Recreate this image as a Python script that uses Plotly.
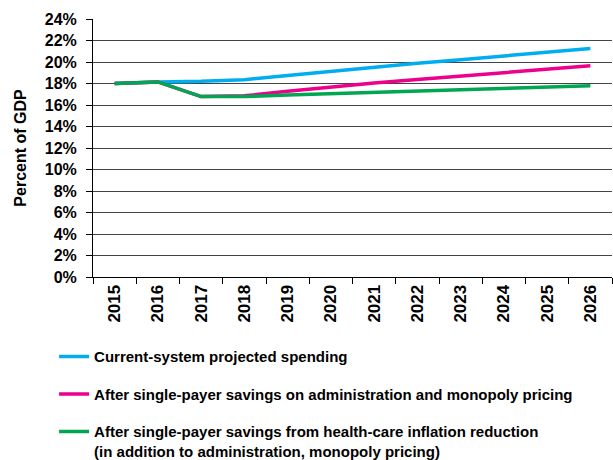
import plotly.graph_objects as go

years = ["2015", "2016", "2017", "2018", "2019", "2020", "2021", "2022", "2023", "2024", "2025", "2026"]
current_system = [18.0, 18.15, 18.2, 18.35, 18.75, 19.15, 19.53, 19.88, 20.22, 20.57, 20.91, 21.26]
admin_monopoly = [18.0, 18.15, 16.78, 16.85, 17.27, 17.69, 18.05, 18.37, 18.69, 19.0, 19.33, 19.65]
inflation_reduction = [18.0, 18.15, 16.78, 16.78, 16.94, 17.06, 17.22, 17.34, 17.45, 17.56, 17.67, 17.78]

names = [
    "Current-system projected spending",
    "After single-payer savings on administration and monopoly pricing",
    "After single-payer savings from health-care inflation reduction<br>(in addition to administration, monopoly pricing)",
]
colors = ["#00AEEF", "#EC008C", "#00A651"]
y_ticks = list(range(0, 25, 2))
y_tick_labels = [f"{v}%" for v in y_ticks]

FONT = "Liberation Sans, Arial, sans-serif"

fig = go.Figure()
for i, (vals, name, col) in enumerate(zip([current_system, admin_monopoly, inflation_reduction], names, colors)):
    fig.add_trace(go.Scatter(
        x=years, y=vals, name=name, mode="lines",
        line=dict(color=col, width=3.5),
        legendgroup=f"g{i}",
    ))

fig.update_layout(
    width=613, height=460,
    margin=dict(l=93, r=1, t=19, b=183, autoexpand=False),
    paper_bgcolor="white", plot_bgcolor="white",
    font=dict(family=FONT, size=16, color="black"),
    showlegend=True,
    legend=dict(
        x=-0.075, xanchor="left", y=-0.245, yanchor="top",
        orientation="v", tracegroupgap=15, valign="top",
        font=dict(family=FONT, size=15, color="black", weight="bold"),
        bgcolor="rgba(0,0,0,0)",
    ),
)
fig.update_xaxes(
    type="category", tickangle=-90,
    tickfont=dict(family=FONT, size=17, weight="bold"),
    ticks="outside", ticklen=6, tickcolor="black", tickson="boundaries",
    showline=True, linecolor="black", linewidth=1,
    showgrid=False, range=[-0.5, 11.5],
)
fig.update_yaxes(
    range=[0, 24], tickvals=y_ticks, ticktext=y_tick_labels,
    tickfont=dict(family=FONT, size=16, weight="bold"),
    ticks="outside", ticklen=6, tickcolor="black", ticklabelstandoff=6,
    showline=True, linecolor="black", linewidth=1,
    showgrid=True, gridcolor="#444444", gridwidth=1.3,
    zeroline=False,
    title=dict(text="Percent of GDP", font=dict(family=FONT, size=16, weight="bold"), standoff=14),
)
fig.write_html("out.html", config={"displayModeBar": False},
               post_script="document.body.style.margin='0px';")
